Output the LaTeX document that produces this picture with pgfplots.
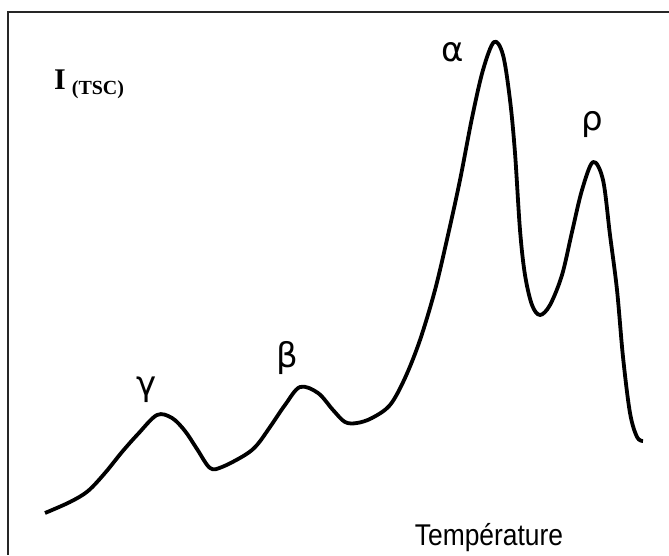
\documentclass[border=0pt]{standalone}
\usepackage{fontspec}
\setmainfont{Liberation Sans}
\newfontfamily\timesfont{Liberation Serif}
\newfontfamily\greekfont{DejaVu Sans}
\newfontfamily\narrowfont[FakeStretch=0.88]{Liberation Sans}
\usepackage{pgfplots}
\pgfplotsset{compat=1.18}

\begin{document}
\begin{tikzpicture}
\useasboundingbox (0,0) rectangle (669pt,555pt);
\begin{axis}[
  at={(0,0)}, anchor=south west,
  width=669pt, height=555pt, scale only axis,
  xmin=0, xmax=669, ymin=0, ymax=555,
  axis lines=none, clip=false,
]
% frame (top and left edges)
\draw[line width=2.2pt, black!85] (axis cs:7,543) -- (axis cs:669,543);
\draw[line width=1.4pt, black!85] (axis cs:8,543) -- (axis cs:8,0);

% TSC spectrum
\addplot[black, line width=3.8pt, smooth, tension=0.55, line cap=butt, line join=round] coordinates {
(45,42) (70,53) (88,64) (105,82) (122,103) (138,121) (157,140) (172,137)
(185,124) (197,106) (210,87) (222,88) (245,100) (257,110) (270,128)
(285,150) (300,168) (318,162) (333,145) (345,133) (357,132) (372,137)
(390,150) (405,177) (420,215) (435,265) (448,320) (460,375) (472,437)
(483,485) (494,513) (503,500) (510,455) (515,402) (520,325) (525,280)
(532,250) (540,240) (550,250) (562,280) (572,323) (582,365) (593,393)
(603,375) (610,320) (617,265) (623,198) (630,142) (637,118) (643,114)
};

% peak labels
\tikzset{peak/.style={font=\greekfont\fontsize{34}{34}\selectfont, text=black}}
\node[peak] at (axis cs:147,165) {γ};
\node[peak] at (axis cs:287,197) {β};
\node[peak] at (axis cs:453,503) {α};
\node[peak] at (axis cs:592,430) {ρ};

% axis titles
\node[anchor=base, inner sep=0pt, font=\narrowfont\fontsize{30}{30}\selectfont] at (axis cs:489,10) {Température};
\node[anchor=base west, inner sep=0pt] at (axis cs:54,465)
  {\timesfont\bfseries\fontsize{30}{30}\selectfont I\hspace{6pt}\raisebox{-5pt}{\fontsize{20}{20}\selectfont (TSC)}};
\end{axis}
\end{tikzpicture}
\end{document}
